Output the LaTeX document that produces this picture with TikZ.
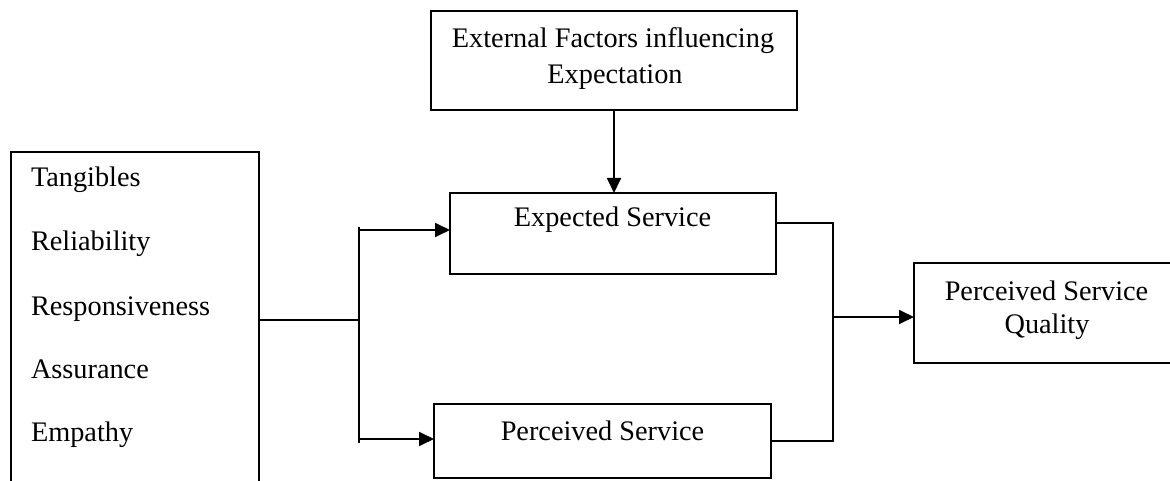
\documentclass[tikz,border=0pt]{standalone}
\usepackage{fontspec}
\setmainfont{Liberation Serif}
\usetikzlibrary{arrows.meta}
\tikzset{
  box/.style={draw, line width=1.8pt, inner sep=0pt, outer sep=0pt},
  txt/.style={inner sep=0pt, outer sep=0pt, font=\fontsize{28.3}{34}\selectfont},
  conn/.style={line width=1.8pt},
  arr/.style={line width=1.8pt, -{Triangle[length=15pt,width=14pt]}}
}
\begin{document}
\begin{tikzpicture}[x=1pt,y=-1pt]
\useasboundingbox (0,0) rectangle (1170,481);
\clip (0,0) rectangle (1170,481);
% boxes
\node[box, minimum width=366pt, minimum height=99pt] (ext) at (614,60.5) {};
\node[box, minimum width=326pt, minimum height=81pt] (exp) at (613,233.5) {};
\node[box, minimum width=337pt, minimum height=74pt] (per) at (602.5,441) {};
\node[box, minimum width=265pt, minimum height=100pt] (psq) at (1046.5,313) {};
\node[box, minimum width=248pt, minimum height=368pt] (left) at (135,336) {};
% texts
\node[txt, anchor=base] (ext1) at (613,48) {External Factors influencing};
\node[txt, anchor=base] (ext2) at (615,84) {Expectation};
\node[txt, anchor=base] (expT) at (612.5,227) {Expected Service};
\node[txt, anchor=base] (perT) at (602.5,440) {Perceived Service};
\node[txt, anchor=base] (psq1) at (1046.5,300) {Perceived Service};
\node[txt, anchor=base] (psq2) at (1047,333) {Quality};
\node[txt, anchor=base west] (t1) at (31,187) {Tangibles};
\node[txt, anchor=base west] (t2) at (31,251) {Reliability};
\node[txt, anchor=base west] (t3) at (31,315) {Responsiveness};
\node[txt, anchor=base west] (t4) at (31,378) {Assurance};
\node[txt, anchor=base west] (t5) at (31,441) {Empathy};
% junction coordinates
\coordinate (jL) at (359,320);
\coordinate (jLt) at (359,227);
\coordinate (jLb) at (359,443);
\coordinate (a1) at (359,230);
\coordinate (a2) at (359,439);
\coordinate (jRt) at (833,222);
\coordinate (jRb) at (833,442);
\coordinate (r1) at (833,223);
\coordinate (r2) at (833,441);
\coordinate (r3) at (833,317);
% connectors
\draw[arr] (ext.south) -- (ext.south |- exp.north);
\draw[conn] (left.east |- jL) -- (jL);
\draw[conn] (jLt) -- (jLb);
\draw[arr] (a1) -- (a1 -| exp.west);
\draw[arr] (a2) -- (a2 -| per.west);
\draw[conn] (r1 -| exp.east) -- (r1);
\draw[conn] (r2 -| per.east) -- (r2);
\draw[conn] (jRt) -- (jRb);
\draw[arr] (r3) -- (r3 -| psq.west);
\end{tikzpicture}
\end{document}
